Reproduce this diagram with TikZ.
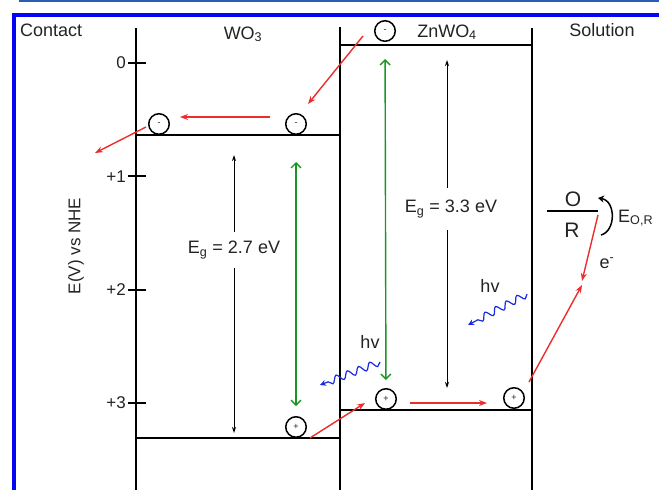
\documentclass[tikz,border=0pt]{standalone}
\usepackage{fontspec}
\setmainfont{Liberation Sans}
\usetikzlibrary{arrows.meta,decorations.pathmorphing}

\definecolor{framecol}{RGB}{5,5,245}
\definecolor{rulecol}{RGB}{40,95,180}
\definecolor{flowred}{RGB}{235,45,45}
\definecolor{gapgreen}{RGB}{25,150,35}
\definecolor{photonblue}{RGB}{25,40,225}
\definecolor{inkgray}{RGB}{35,35,35}

\begin{document}
\begin{tikzpicture}[x=1pt,y=-1pt,
    every node/.style={font=\fontsize{18}{20}\selectfont, text=inkgray},
    bandline/.style={line width=1.8pt},
    carrier/.style={draw, circle, line width=1.5pt, minimum size=20.5pt, inner sep=0pt,
        font=\fontsize{9}{9}\selectfont},
    redflow/.style={flowred, line width=1.4pt, -{Stealth[length=8pt,width=6pt]}},
    greengap/.style={gapgreen, line width=1.4pt,
        {Straight Barb[length=5pt,width=10pt]}-{Straight Barb[length=5pt,width=10pt]}},
    blackgap/.style={line width=1pt, -{Stealth[length=6pt,width=4pt]}},
    photon/.style={photonblue, line width=1.2pt, decorate,
        decoration={snake, amplitude=3.5pt, segment length=12pt, post length=6pt},
        -{Stealth[length=6pt,width=6pt]}}]
    \useasboundingbox (0,0) rectangle (659,490);

    % Frame
    \fill[rulecol] (19,0) rectangle (659,2);
    \fill[framecol] (12,13) rectangle (659,17);
    \fill[framecol] (12,13) rectangle (16,490);

    % Titles
    \node[anchor=base west, inner sep=0pt] (contact) at (20,36) {Contact};
    \node[anchor=base, inner sep=0pt] (wo) at (243,39) {WO\textsubscript{3}};
    \node[anchor=base, inner sep=0pt] (zn) at (447,37) {ZnWO\textsubscript{4}};
    \node[anchor=base, inner sep=0pt] (sol) at (602,36) {Solution};

    % Energy axis
    \draw[bandline] (136,28) -- (136,490);
    \foreach \k/\lab in {0/0,1/+1,2/+2,3/+3}{
        \draw[bandline] (128,63+113.3*\k) -- (146,63+113.3*\k);
        \node[anchor=east, inner sep=1pt, font=\fontsize{17}{19}\selectfont]
            (tick\k) at (127,63+113.3*\k) {\lab};
    }
    \node[rotate=90, font=\fontsize{17}{19}\selectfont] (axis) at (76,246) {E(V) vs NHE};

    % Band edges
    \draw[bandline] (340,27) -- (340,490);
    \draw[bandline] (532,28) -- (532,490);
    \draw[bandline] (136,135) -- (340,135);
    \draw[bandline] (136,438) -- (340,438);
    \draw[bandline] (340,45) -- (532,45);
    \draw[bandline] (340,410) -- (532,410);

    % Electrons and holes
    \node[carrier] (eA) at (159,124) {-};
    \node[carrier] (eB) at (296,124) {-};
    \node[carrier] (eC) at (385,31) {-};
    \node[carrier] (hA) at (296,427) {+};
    \node[carrier] (hB) at (386,399) {+};
    \node[carrier] (hC) at (514,398) {+};

    % Band gaps
    \draw[greengap, shorten <=27pt, shorten >=10pt] (eB) -- (hA);
    \draw[greengap, shorten <=17pt, shorten >=8pt] (eC) -- (hB);

    \node[minimum height=36pt, inner sep=0pt] (gA) at (234,250) {E\textsubscript{g} = 2.7 eV};
    \coordinate (gAtop) at (234,155);
    \coordinate (gAbot) at (234,433);
    \draw[blackgap] (gA.north) -- (gAtop);
    \draw[blackgap] (gA.south) -- (gAbot);

    \node[minimum height=42pt, inner sep=0pt] (gB) at (451,209) {E\textsubscript{g} = 3.3 eV};
    \coordinate (gBtop) at (447,60);
    \coordinate (gBbot) at (447,388);
    \draw[blackgap] (gBtop |- gB.north) -- (gBtop);
    \draw[blackgap] (gBbot |- gB.south) -- (gBbot);

    % Charge transfer
    \coordinate (a1) at (363,36);
    \coordinate (a2) at (308,104);
    \coordinate (a3) at (270,117);
    \coordinate (a4) at (180,117);
    \coordinate (a5) at (146,127);
    \coordinate (a6) at (95,153);
    \coordinate (a7) at (310,438);
    \coordinate (a8) at (365,403);
    \coordinate (a9) at (410,403);
    \coordinate (a10) at (487,403);
    \coordinate (a11) at (529,382);
    \coordinate (a12) at (582,285);
    \coordinate (a13) at (598,215);
    \coordinate (a14) at (582,281);
    \draw[redflow] (a1) -- (a2);
    \draw[redflow] (a3) -- (a4);
    \draw[redflow] (a5) -- (a6);
    \draw[redflow] (a7) -- (a8);
    \draw[redflow] (a9) -- (a10);
    \draw[redflow] (a11) -- (a12);
    \draw[redflow] (a13) -- (a14);

    % Light
    \coordinate (p1) at (380,362);
    \coordinate (p2) at (320,385);
    \coordinate (p3) at (527,294);
    \coordinate (p4) at (468,325);
    \draw[photon] (p1) -- (p2);
    \draw[photon] (p3) -- (p4);
    \node[anchor=base, inner sep=0pt] (hvA) at (370,348) {hv};
    \node[anchor=base, inner sep=0pt] (hvB) at (490,292) {hv};

    % Redox couple
    \node[font=\fontsize{21}{23}\selectfont] (ox) at (573,199) {O};
    \node[font=\fontsize{21}{23}\selectfont] (rd) at (572,230) {R};
    \draw[line width=1.2pt] (547,211) -- (598,211);
    \coordinate (c1) at (601,235);
    \coordinate (c2) at (598,198);
    \draw[line width=1.5pt, -{Stealth[length=6pt,width=7pt]}]
        (c1) .. controls (616,231) and (616,201) .. (c2);
    \node[anchor=base west, inner sep=0pt] (eor) at (618,222) {E\textsubscript{O,R}};
    \node[anchor=base, inner sep=0pt] (el) at (607,268) {e\textsuperscript{-}};
\end{tikzpicture}
\end{document}
